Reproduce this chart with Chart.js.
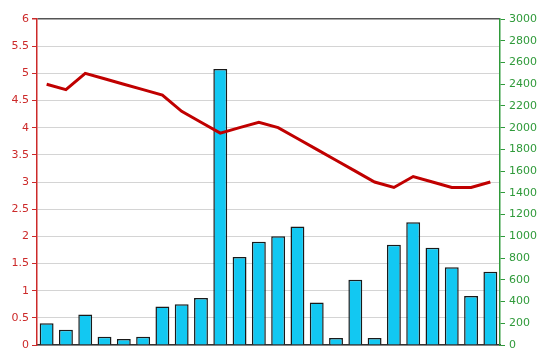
<!DOCTYPE html>
<html>
<head>
<meta charset="utf-8">
<script src="https://cdn.jsdelivr.net/npm/chart.js@4/dist/chart.umd.min.js"></script>
<style>
  html, body { margin: 0; padding: 0; background: #fff; }
  #wrap { width: 550px; height: 364px; }
</style>
</head>
<body>
<div id="wrap"><canvas id="chart" width="550" height="364"></canvas></div>
<script>
/* price line (left axis) + volume bars (right axis) */
const labels = Array.from({ length: 24 }, (_, i) => String(i + 1));
const priceVals = [4.8, 4.7, 5.0, 4.9, 4.8, 4.7, 4.6, 4.3, 4.1, 3.9, 4.0, 4.1,
                   4.0, 3.8, 3.6, 3.4, 3.2, 3.0, 2.9, 3.1, 3.0, 2.9, 2.9, 3.0];
const volumeVals = [200, 140, 280, 75, 55, 75, 355, 375, 433, 2540, 810, 950,
                    1000, 1090, 390, 64, 600, 64, 923, 1129, 896, 715, 451, 675];

const RED = '#cc2a2a';
const GREEN = '#2f9a3a';
const FONT = { family: 'DejaVu Sans', size: 11 };

const ctx = document.getElementById('chart').getContext('2d');
new Chart(ctx, {
  data: {
    labels: labels,
    datasets: [
      {
        type: 'line', data: priceVals, yAxisID: 'y', order: 0,
        borderColor: '#c00000', borderWidth: 3, pointRadius: 0, tension: 0, fill: false
      },
      {
        type: 'bar', data: volumeVals, yAxisID: 'y2', order: 1,
        backgroundColor: '#12c8f2', borderColor: '#1a1a1a', borderWidth: 1.5,
        barPercentage: 0.72, categoryPercentage: 1
      }
    ]
  },
  options: {
    responsive: false,
    animation: false,
    layout: { padding: { top: 19, bottom: 0, left: 0, right: 0 } },
    plugins: { legend: { display: false }, tooltip: { enabled: false } },
    scales: {
      x: {
        offset: true,
        grid: { display: false },
        ticks: { display: false },
        border: { color: '#333', width: 1.5 },
        afterFit: s => { s.height = 19; }
      },
      y: {
        position: 'left', min: 0, max: 6,
        ticks: { stepSize: 0.5, color: RED, font: FONT, padding: 3, callback: v => String(v) },
        grid: {
          color: c => (c.tick && c.tick.value === 6) ? '#555' : '#d4d4d4',
          lineWidth: c => (c.tick && c.tick.value === 6) ? 1.5 : 1,
          tickColor: RED, tickLength: 5
        },
        border: { color: RED, width: 1.5 },
        afterFit: s => { s.width = 37; }
      },
      y2: {
        position: 'right', min: 0, max: 3000,
        ticks: { stepSize: 200, color: GREEN, font: FONT, padding: 4, callback: v => String(v) },
        grid: { drawOnChartArea: false, tickColor: GREEN, tickLength: 5 },
        border: { color: GREEN, width: 1.5 },
        afterFit: s => { s.width = 50; }
      }
    }
  }
});
</script>
</body>
</html>
